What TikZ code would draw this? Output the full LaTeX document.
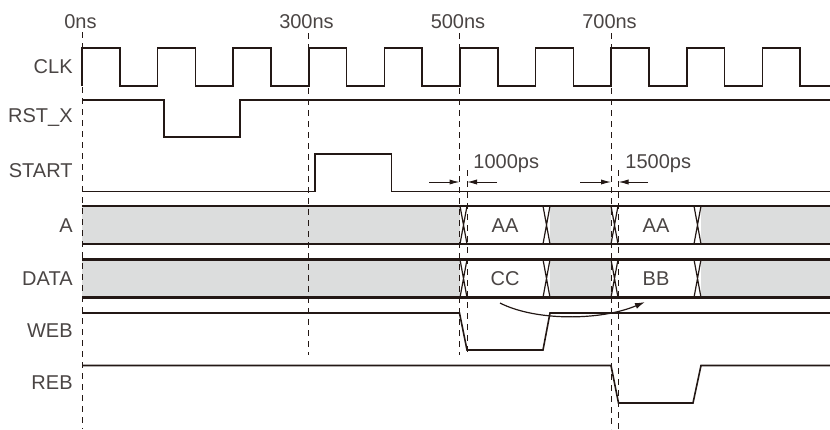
\documentclass[tikz,border=0pt]{standalone}
\usepackage{fontspec}
\setmainfont{Liberation Sans}
\usetikzlibrary{arrows.meta}
\definecolor{ink}{HTML}{231815}
\definecolor{busgray}{HTML}{DCDDDD}
\definecolor{txtgray}{HTML}{4A4544}

\begin{document}
\begin{tikzpicture}[x=0.5pt,y=-0.5pt,
    sig/.style={draw=ink, line width=0.8pt},
    bus/.style={draw=ink, line width=1.1pt},
    xing/.style={draw=ink, line width=0.6pt},
    guide/.style={draw=ink, line width=0.5pt, dash pattern=on 3pt off 2.5pt},
    dim/.style={draw=ink, line width=0.5pt, -{Latex[length=5pt,width=2.6pt]}},
    lbl/.style={text=txtgray, inner sep=0pt, font=\fontsize{10}{12}\selectfont}]
  \useasboundingbox (0,0) rectangle (830,429);
  % bus shading
  \foreach \yt/\yb in {206/244, 259.5/297.5} {
    \fill[busgray] (82,\yt) rectangle (460,\yb);
    \fill[busgray] (550,\yt) rectangle (611,\yb);
    \fill[busgray] (701,\yt) rectangle (830,\yb);
  }
  % guides
  \draw[guide] (82,32) -- (82,429);
  \draw[guide] (308.5,33) -- (308.5,355);
  \draw[guide] (459.5,33) -- (459.5,355);
  \draw[guide] (467,170) -- (467,355);
  \draw[guide] (611,33) -- (611,429);
  \draw[guide] (618.5,170) -- (618.5,429);
  % signals
  \draw[sig] (82,86) \foreach \k in {0,...,8} { -- ++(0,-38) -- ++(37.8,0) -- ++(0,38) -- ++(37.8,0) }
    -- ++(0,-38) -- ++(37.8,0) -- ++(0,38) -- (830,86);
  \draw[sig] (82,100) -- (164,100) -- (164,137) -- (240,137) -- (240,100) -- (830,100);
  \draw[sig] (82,191.5) -- (315,191.5) -- (315,154) -- (391.5,154) -- (391.5,191.5) -- (830,191.5);
  \foreach \yt/\yb in {206/244, 259.5/297.5} {
    \draw[bus] (82,\yt) -- (830,\yt);
    \draw[bus] (82,\yb) -- (830,\yb);
    \foreach \xa in {460,543,611,694}
      \draw[xing] (\xa,\yt) -- (\xa+7,\yb) (\xa,\yb) -- (\xa+7,\yt);
  }
  \draw[sig] (82,313) -- (459.5,313) -- (467,350) -- (543,350) -- (550,313) -- (830,313);
  \draw[sig] (82,365.5) -- (611,365.5) -- (618.5,403) -- (693,403) -- (701,365.5) -- (830,365.5);
  % names
  \node[lbl, anchor=east] (nclk) at (73,67) {CLK};
  \node[lbl, anchor=east] (nrst) at (73,118) {RST\_X};
  \node[lbl, anchor=east] (nstart) at (73,171) {START};
  \node[lbl, anchor=east] (na) at (73,226) {A};
  \node[lbl, anchor=east] (ndata) at (73,279) {DATA};
  \node[lbl, anchor=east] (nweb) at (73,331) {WEB};
  \node[lbl, anchor=east] (nreb) at (73,383) {REB};
  % time marks
  \node[lbl] (t0) at (80.5,22) {0ns};
  \node[lbl] (t300) at (306.5,22) {300ns};
  \node[lbl] (t500) at (458,22) {500ns};
  \node[lbl] (t700) at (609.5,22) {700ns};
  % values
  \node[lbl] (va1) at (505,226) {AA};
  \node[lbl] (vd1) at (505,279) {CC};
  \node[lbl] (va2) at (656,226) {AA};
  \node[lbl] (vd2) at (656,279) {BB};
  % delays
  \node[lbl, anchor=west] (dl1) at (473,164) {1000ps};
  \node[lbl, anchor=west] (dl2) at (625,164) {1500ps};
  \coordinate (d1a) at (429,182);
  \coordinate (d1b) at (459.5,182);
  \coordinate (d1c) at (497,182);
  \coordinate (d1d) at (467,182);
  \coordinate (d2a) at (580,182);
  \coordinate (d2b) at (611,182);
  \coordinate (d2c) at (648,182);
  \coordinate (d2d) at (618.5,182);
  \draw[dim] (d1a) -- (d1b);
  \draw[dim] (d1c) -- (d1d);
  \draw[dim] (d2a) -- (d2b);
  \draw[dim] (d2c) -- (d2d);
  % data hand-over
  \coordinate (src) at (500,303);
  \coordinate (dst) at (645,302);
  \draw[draw=ink, line width=0.6pt, -{Latex[length=5pt,width=3pt]}]
    (src) .. controls (535,321) and (600,321) .. (dst);
\end{tikzpicture}
\end{document}
